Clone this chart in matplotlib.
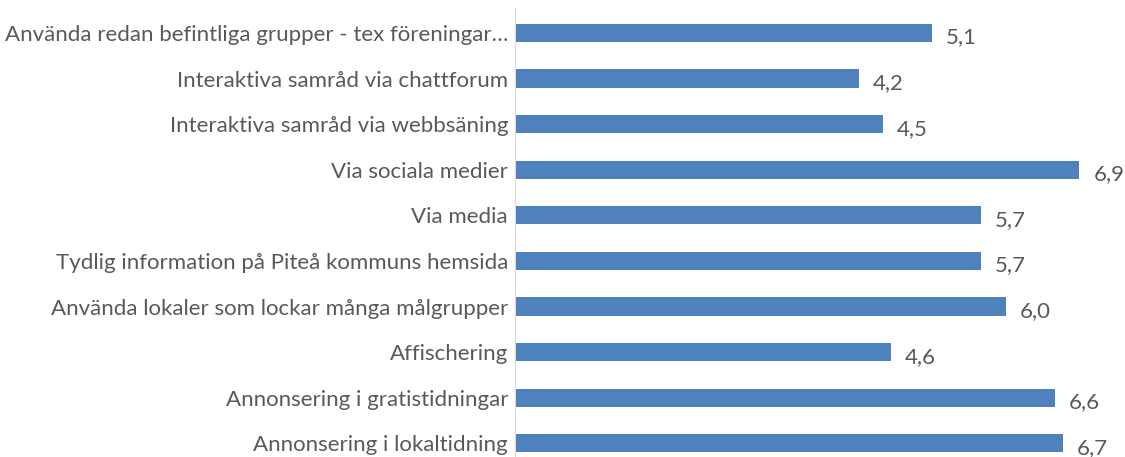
import matplotlib.pyplot as plt

categories = ["Använda redan befintliga grupper - tex föreningar…",
              "Interaktiva samråd via chattforum",
              "Interaktiva samråd via webbsäning",
              "Via sociala medier",
              "Via media",
              "Tydlig information på Piteå kommuns hemsida",
              "Använda lokaler som lockar många målgrupper",
              "Affischering",
              "Annonsering i gratistidningar",
              "Annonsering i lokaltidning"]
values = [5.1, 4.2, 4.5, 6.9, 5.7, 5.7, 6.0, 4.6, 6.6, 6.7]

plt.rcParams['font.family'] = ['Lato', 'DejaVu Sans']
text_color = '#595959'

fig = plt.figure(figsize=(11.25, 4.57), dpi=100)
ax = fig.add_axes([515 / 1125, 0, 610 / 1125, 1])

y = list(range(len(categories)))
ax.barh(y, values, height=0.4, color='#4F81BD')
for yi, v in zip(y, values):
    ax.text(v + 0.17, yi + 0.1, f"{v:.1f}".replace('.', ','), va='center', ha='left',
            fontsize=16, color=text_color)

ax.set_xlim(0, 610 / 81.8)
ax.set_ylim(9.30, -0.724)
ax.set_yticks(y)
ax.set_yticklabels(categories, fontsize=16, color=text_color)
ax.tick_params(axis='y', length=0, pad=5)
ax.set_xticks([])
for s in ['top', 'right', 'bottom']:
    ax.spines[s].set_visible(False)
ax.spines['left'].set_color('#D9D9D9')
ax.spines['left'].set_bounds(-0.55, 9.3)

fig.savefig('out.png', dpi=100)
